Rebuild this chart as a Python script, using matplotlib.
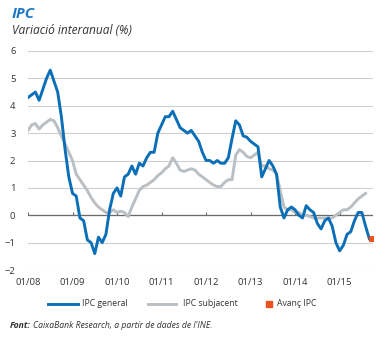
"""
IPC: variacio interanual (%), 01/2008 - 09/2015.
"""

import numpy as np
import matplotlib
matplotlib.use("Agg")
import matplotlib.pyplot as plt

plt.rcParams['font.family'] = ['Open Sans', 'DejaVu Sans']

# Month index 0 = 01/2008
tick_labels = ['01/08', '01/09', '01/10', '01/11', '01/12', '01/13', '01/14', '01/15']
tick_months = [0, 12, 24, 36, 48, 60, 72, 84]

# IPC general, 01/2008 - 09/2015
ipc_general = [
    4.3, 4.4, 4.5, 4.2, 4.6, 5.0, 5.3, 4.9, 4.5, 3.6, 2.4, 1.4,
    0.8, 0.7, -0.1, -0.2, -0.9, -1.0, -1.4, -0.8, -1.0, -0.7, 0.2, 0.8,
    1.0, 0.7, 1.4, 1.5, 1.8, 1.5, 1.9, 1.8, 2.1, 2.3, 2.3, 3.0,
    3.3, 3.6, 3.6, 3.8, 3.5, 3.2, 3.1, 3.0, 3.1, 2.9, 2.7, 2.3,
    2.0, 2.0, 1.9, 2.0, 1.9, 1.9, 2.1, 2.8, 3.45, 3.3, 2.9, 2.85,
    2.7, 2.6, 2.5, 1.4, 1.7, 2.0, 1.8, 1.5, 0.3, -0.1, 0.2, 0.3,
    0.2, 0.0, -0.1, 0.35, 0.2, 0.1, -0.3, -0.5, -0.2, -0.1, -0.4, -1.0,
    -1.3, -1.1, -0.7, -0.6, -0.2, 0.1, 0.1, -0.4, -0.85,
]

# IPC subjacent, 01/2008 - 08/2015
ipc_subjacent = [
    3.1, 3.3, 3.35, 3.15, 3.3, 3.4, 3.5, 3.45, 3.2, 2.9, 2.6, 2.3,
    2.0, 1.5, 1.3, 1.1, 0.9, 0.65, 0.45, 0.3, 0.2, 0.1, 0.1, 0.2,
    0.1, 0.15, 0.1, -0.05, 0.3, 0.6, 0.9, 1.05, 1.1, 1.2, 1.3, 1.45,
    1.55, 1.7, 1.8, 2.1, 1.9, 1.65, 1.6, 1.65, 1.7, 1.65, 1.5, 1.4,
    1.3, 1.2, 1.1, 1.05, 1.05, 1.2, 1.3, 1.3, 2.2, 2.4, 2.3, 2.15,
    2.1, 2.2, 2.3, 1.8, 1.8, 1.7, 1.65, 1.5, 0.9, 0.3, 0.2, 0.2,
    0.1, 0.1, 0.0, 0.0, -0.05, -0.1, -0.1, -0.1, -0.1, -0.1, -0.1, 0.0,
    0.1, 0.2, 0.2, 0.3, 0.45, 0.6, 0.7, 0.8,
]

# Avanc IPC (flash estimate) 09/2015
avanc_month = [92]
avanc_value = [-0.85]

BLUE = '#0B6FB8'
GREY = '#B9BFC2'
ORANGE = '#E8531E'
TEXT = '#333333'
LW = 2.1


def main():
    fig = plt.figure(figsize=(3.86, 3.38), dpi=100)
    ax = fig.add_axes([28 / 386, 1 - 270 / 338, 345 / 386, 219 / 338])

    months_gen = np.arange(len(ipc_general))
    months_sub = np.arange(len(ipc_subjacent))

    # grid and zero line
    for v in range(-2, 7):
        ax.axhline(v, color='#CFCFCF', lw=0.8, zorder=0)
    ax.axhline(0, color='#6B6B6B', lw=0.9, zorder=1)
    ax.vlines(tick_months, 0, 0.12, color='#6B6B6B', lw=0.8, zorder=1)

    ax.plot(months_sub, ipc_subjacent, color=GREY, lw=LW, zorder=2,
            solid_joinstyle='round')
    ax.plot(months_gen, ipc_general, color=BLUE, lw=LW, zorder=3,
            solid_joinstyle='round')
    ax.scatter([m + 0.6 for m in avanc_month], avanc_value, marker='s', s=16,
               color=ORANGE, zorder=4, linewidths=0)

    ax.set_xlim(0, 93)
    ax.set_ylim(-2, 6)
    for s in ax.spines.values():
        s.set_visible(False)
    ax.set_xticks(tick_months)
    ax.set_xticklabels(tick_labels)
    ax.set_yticks(range(-2, 7))
    ax.tick_params(axis='both', length=0, labelsize=6.8, colors=TEXT)
    ax.tick_params(axis='x', pad=6)
    ax.tick_params(axis='y', pad=9)

    # titles
    fig.text(12 / 386, 1 - 14 / 338, 'IPC', color='#1E78C2', fontsize=11,
             fontweight='bold', style='italic', va='center')
    fig.text(12 / 386, 1 - 31 / 338, 'Variació interanual (%)', color=TEXT,
             fontsize=8.6, style='italic', va='center')

    # legend
    ly = 1 - 304 / 338
    fig.add_artist(plt.Line2D([48 / 386, 78 / 386], [ly, ly], color=BLUE, lw=LW))
    fig.text(82 / 386, ly, 'IPC general', fontsize=6.2, color=TEXT, va='center')
    fig.add_artist(plt.Line2D([148 / 386, 176 / 386], [ly, ly], color=GREY, lw=LW))
    fig.text(183 / 386, ly, 'IPC subjacent', fontsize=6.2, color=TEXT, va='center')
    fig.add_artist(plt.Line2D([269 / 386], [ly], marker='s', markersize=3.8,
                              color=ORANGE, lw=0))
    fig.text(277 / 386, ly, 'Avanç IPC', fontsize=6.2, color=TEXT, va='center')

    # source
    fy = 1 - 326 / 338
    lead = fig.text(10 / 386, fy, 'Font:', fontsize=6.2, fontweight='bold',
                    style='italic', color=TEXT, va='center')
    fig.canvas.draw()
    bb = lead.get_window_extent()
    fig.text((bb.x1 + 2) / 386, fy, "CaixaBank Research, a partir de dades de l'INE.",
             fontsize=6.2, style='italic', color=TEXT, va='center')

    fig.savefig('out.png', dpi=100)


if __name__ == "__main__":
    main()
